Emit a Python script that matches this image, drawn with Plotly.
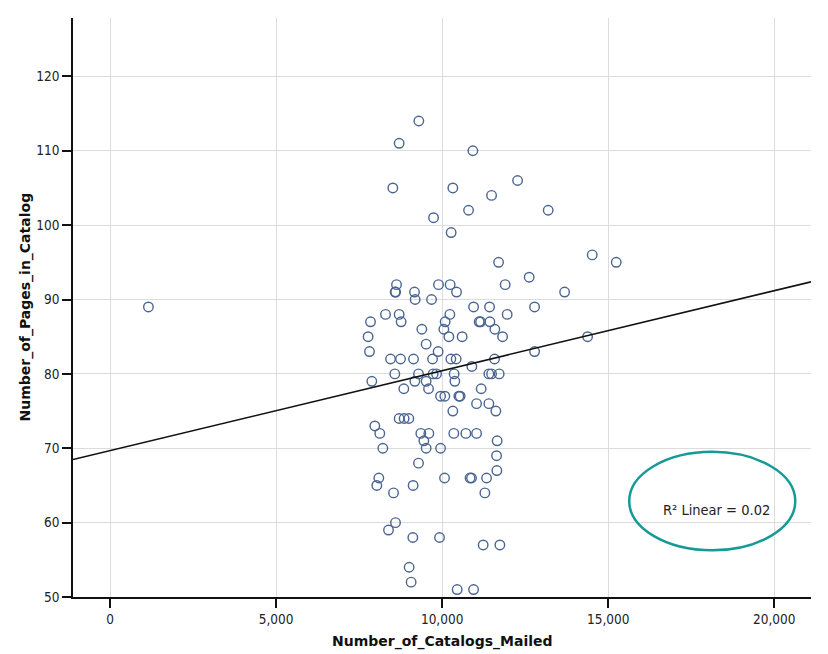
import numpy as np
import plotly.graph_objects as go

# Catalog mailing data: catalogs mailed vs. pages in catalog
catalogs_mailed = [
    9298, 8705, 10925, 8515, 10322, 12271, 11488, 10795, 13193, 9741,
    10271, 14518, 15241, 11699, 12620, 11897, 13687, 8626, 8584, 8600,
    9168, 9891, 10241, 10434,
    9187, 9681,
    8295, 8705, 10232, 11958,
    10946, 11427, 12783,
    7843, 8765, 10090, 11114, 11157, 11437,
    9388, 10051, 11587,
    7771, 10202, 10602, 11819, 14379,
    9518,
    7813, 9879, 12783,
    8446, 8747, 9138, 9711, 10262, 10422, 11578,
    10894,
    8575, 9289, 9729, 9831, 10361, 11406, 11488, 11717,
    7882, 9178, 9518, 10382,
    8846, 9590, 11175,
    9952, 10081, 10503, 10542,
    11036, 11406,
    10322, 11617,
    8705, 8855, 8997,
    7973,
    8123, 9358, 9599, 10352, 10714, 11036,
    9449, 11656,
    8214, 9518, 9952,
    11638,
    9289,
    11647,
    8093, 10072, 10840, 10885, 11337,
    8033, 9126,
    8536, 11286,
    8596,
    8385,
    9117, 9921,
    11235, 11738,
    9006,
    9066,
    10452, 10946,
    1157,
]
pages_in_catalog = [
    114, 111, 110, 105, 105, 106, 104, 102, 102, 101,
    99, 96, 95, 95, 93, 92, 91, 92, 91, 91,
    91, 92, 92, 91,
    90, 90,
    88, 88, 88, 88,
    89, 89, 89,
    87, 87, 87, 87, 87, 87,
    86, 86, 86,
    85, 85, 85, 85, 85,
    84,
    83, 83, 83,
    82, 82, 82, 82, 82, 82, 82,
    81,
    80, 80, 80, 80, 80, 80, 80, 80,
    79, 79, 79, 79,
    78, 78, 78,
    77, 77, 77, 77,
    76, 76,
    75, 75,
    74, 74, 74,
    73,
    72, 72, 72, 72, 72, 72,
    71, 71,
    70, 70, 70,
    69,
    68,
    67,
    66, 66, 66, 66, 66,
    65, 65,
    64, 64,
    60,
    59,
    58, 58,
    57, 57,
    54,
    52,
    51, 51,
    89,
]

x_ticks = [0, 5000, 10000, 15000, 20000]
y_ticks = [50, 60, 70, 80, 90, 100, 110, 120]
X_RANGE = [-1114, 21105]
Y_RANGE = [50, 127.85]
r2_label = "R² Linear = 0.02"

# Least-squares linear fit across the full axis span
x_arr = np.array(catalogs_mailed, dtype=float)
y_arr = np.array(pages_in_catalog, dtype=float)
slope, intercept = np.polyfit(x_arr, y_arr, 1)
fit_x = np.array(X_RANGE, dtype=float)
fit_y = intercept + slope * fit_x

TICK_FONT = dict(family="DejaVu Sans Condensed, DejaVu Sans", size=13.5, color="#222222")
TITLE_FONT = dict(family="DejaVu Sans", size=14, color="#111111")

fig = go.Figure()
fig.add_trace(go.Scatter(
    x=catalogs_mailed, y=pages_in_catalog, mode="markers",
    marker=dict(symbol="circle-open", size=9.5, color="#4A6592",
                line=dict(width=1.4, color="#4A6592")),
    showlegend=False, hoverinfo="x+y",
))
fig.add_trace(go.Scatter(
    x=fit_x, y=fit_y, mode="lines",
    line=dict(color="#111111", width=1.6),
    showlegend=False, hoverinfo="skip",
))

fig.update_layout(
    width=828, height=654,
    margin=dict(l=73, r=17, t=18, b=57),
    paper_bgcolor="white", plot_bgcolor="white",
    xaxis=dict(
        range=X_RANGE, tickvals=x_ticks, ticktext=[f"{v:,}" for v in x_ticks],
        showgrid=True, gridcolor="#dcdcdc", gridwidth=1,
        showline=True, linecolor="#111111", linewidth=1.5,
        ticks="outside", ticklen=9, tickwidth=1.5, tickcolor="#111111",
        tickfont=TICK_FONT, zeroline=False,
    ),
    yaxis=dict(
        range=Y_RANGE, tickvals=y_ticks,
        showgrid=True, gridcolor="#dcdcdc", gridwidth=1,
        showline=True, linecolor="#111111", linewidth=1.5,
        ticks="outside", ticklen=9, tickwidth=1.5, tickcolor="#111111",
        tickfont=TICK_FONT, zeroline=False,
    ),
    annotations=[
        dict(text="<b>Number_of_Catalogs_Mailed</b>", xref="paper", yref="paper",
             x=0.5, y=0, xanchor="center", yanchor="middle", yshift=-44,
             showarrow=False, font=TITLE_FONT),
        dict(text="<b>Number_of_Pages_in_Catalog</b>", xref="paper", yref="paper",
             x=0, y=0.5, xanchor="center", yanchor="middle", xshift=-48,
             textangle=-90, showarrow=False, font=TITLE_FONT),
        dict(text=r2_label, xref="paper", yref="paper",
             x=0.9467, y=0.15, xanchor="right", yanchor="middle",
             showarrow=False,
             font=dict(family="DejaVu Sans Condensed, DejaVu Sans", size=14.5, color="#222222")),
    ],
    shapes=[
        dict(type="circle", xref="paper", yref="paper",
             x0=0.7537, x1=0.9787, y0=0.0807, y1=0.2507,
             line=dict(color="#169A96", width=2.5)),
    ],
)

fig.write_html("out.html")
